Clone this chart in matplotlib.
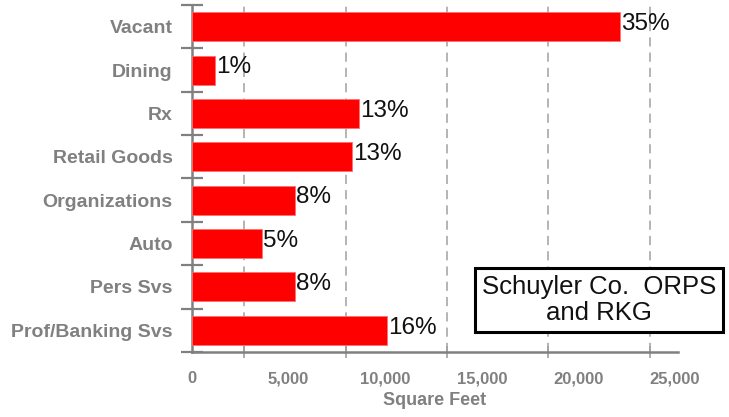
import matplotlib
matplotlib.use("Agg")
import matplotlib.pyplot as plt
import numpy as np

categories = ["Vacant", "Dining", "Rx", "Retail Goods", "Organizations",
              "Auto", "Pers Svs", "Prof/Banking Svs"]
square_feet = [22150, 1190, 8640, 8280, 5330, 3620, 5330, 10090]
pct_labels = ["35%", "1%", "13%", "13%", "8%", "5%", "8%", "16%"]
x_ticks = [0, 5000, 10000, 15000, 20000, 25000]
x_tick_labels = ["0", "5,000", "10,000", "15,000", "20,000", "25,000"]
grid_positions = [2700, 7950, 13200, 18400, 23700]
source_note = "Schuyler Co.  ORPS\nand RKG"

plt.rcParams['font.family'] = ['Liberation Sans', 'DejaVu Sans']
gray = "#808080"

fig = plt.figure(figsize=(7.29, 4.17), dpi=100)
ax = fig.add_axes([192/729, 1-352/417, (678-192)/729, (352-5)/417])

y = np.arange(len(categories))
ax.barh(y, square_feet, height=0.67, color="#ff0000", edgecolor="#ff7070",
        linewidth=0.6, zorder=3)
for yi, v, lab in zip(y, square_feet, pct_labels):
    ax.annotate(lab, (v, yi), xytext=(1, 2), textcoords="offset points",
                ha="left", va="center", fontsize=17.5, color="#111111", zorder=4)

ax.set_ylim(len(categories) - 0.5, -0.5)
ax.set_xlim(0, 25150)

ax.set_yticks(y)
ax.set_yticklabels(categories, fontsize=14, fontweight="bold", color=gray)
ax.set_yticks(np.arange(-0.5, len(categories), 1.0), minor=True)
ax.tick_params(axis="y", which="major", length=0, pad=14)
ax.tick_params(axis="y", which="minor", direction="inout", length=16,
               width=1.6, color=gray)

ax.set_xticks(x_ticks)
ax.set_xticklabels(x_tick_labels, fontsize=12, fontweight="bold", color=gray)
ax.set_xticks(grid_positions, minor=True)
ax.tick_params(axis="x", which="major", length=0, pad=14)
ax.tick_params(axis="x", which="minor", direction="inout", length=9,
               width=1.2, color="#a0a0a0")
ax.xaxis.grid(True, which="minor", linestyle=(0, (6, 4)), color="#a0a0a0",
              linewidth=1.1, zorder=0)
ax.set_xlabel("Square Feet", fontsize=13, fontweight="bold", color=gray,
              labelpad=4)

for s in ["top", "right"]:
    ax.spines[s].set_visible(False)
for s in ["left", "bottom"]:
    ax.spines[s].set_color(gray)
    ax.spines[s].set_linewidth(1.8)

fig.text((475+723)/2/729, 1-300/417, source_note, ha="center", va="center",
         fontsize=18.5, color="#111111", linespacing=1.15,
         bbox=dict(boxstyle="square,pad=0.25", facecolor="white",
                   edgecolor="black", linewidth=2.2))

fig.savefig("out.png", dpi=100)
